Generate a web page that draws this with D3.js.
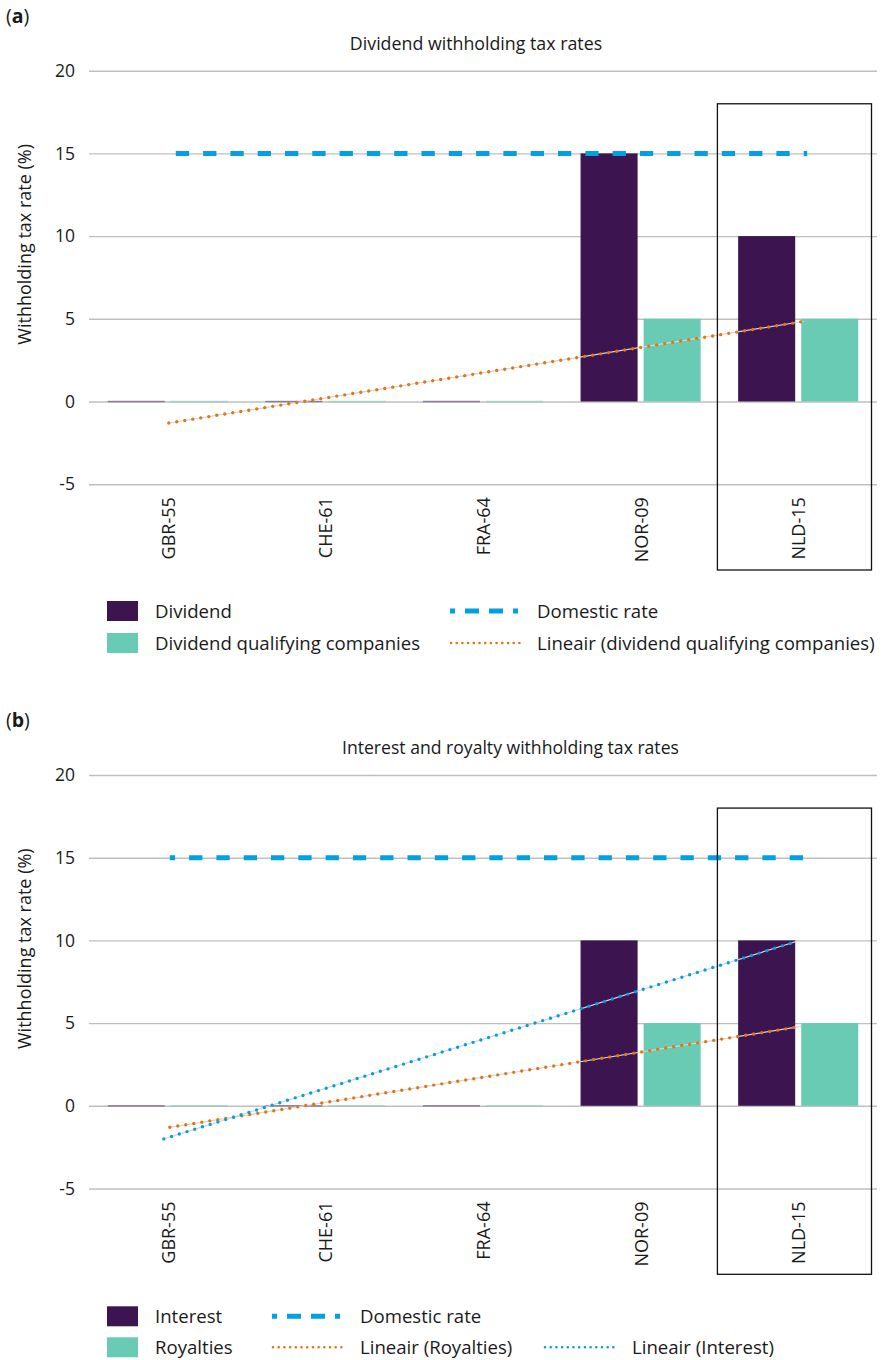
<!DOCTYPE html>
<html>
<head>
<meta charset="utf-8">
<script src="https://cdn.jsdelivr.net/npm/d3@7/dist/d3.min.js"></script>
<style>
  html, body { margin: 0; padding: 0; background: #fff; }
  svg { display: block; font-family: "Open Sans", "Noto Sans", sans-serif; }
</style>
</head>
<body>
<svg id="chart" width="882" height="1360"></svg>
<script>
// ---------- data ----------
const categories = ["GBR-55", "CHE-61", "FRA-64", "NOR-09", "NLD-15"];
const yTicks = [-5, 0, 5, 10, 15, 20];

// panel (a)
const dividend = [0, 0, 0, 15, 10];
const dividendQualifying = [0, 0, 0, 5, 5];
const domesticRateA = [15, 15, 15, 15, 15];
const trendDividendQualifying = [-1.3, 4.85]; // linear trend, first -> last category

// panel (b)
const interest = [0, 0, 0, 10, 10];
const royalties = [0, 0, 0, 5, 5];
const domesticRateB = [15, 15, 15, 15, 15];
const trendRoyalties = [-1.3, 4.8];
const trendInterest = [-2.0, 9.95];

const highlightCategory = "NLD-15";

// ---------- styles ----------
const C = {
  purple: "#3c1450",
  green: "#69cbb3",
  blue: "#01a0e2",
  orange: "#e8730f",
  grid: "#bfbfbf",
  text: "#1a1a1a"
};

const svg = d3.select("#chart");

function drawPanel(opts) {
  const top = opts.offset;
  const g = svg.append("g");
  const y = d3.scaleLinear().domain([-5, 20]).range([top + 484.2, top + 70.7]);
  const x = d3.scaleBand().domain(categories).range([89, 877]).paddingInner(0).paddingOuter(0);
  const bw = x.bandwidth();
  const inner = d3.scaleBand().domain([0, 1]).range([18.75, bw - 18.75]).paddingInner(0.0952);

  // panel letter
  const pl = g.append("text").attr("x", 6).attr("y", top + 23)
    .attr("font-size", 19.5).attr("fill", C.text);
  pl.append("tspan").text("(");
  pl.append("tspan").attr("font-weight", "bold").text(opts.letter);
  pl.append("tspan").text(")");

  // title
  g.append("text").attr("x", opts.titleX).attr("y", top + 50)
    .attr("text-anchor", opts.titleAnchor).attr("font-size", opts.titleSize).attr("fill", C.text)
    .text(opts.title);

  // gridlines + tick labels
  const yAxis = d3.axisLeft(y).tickValues(yTicks).tickSize(-(877 - 89)).tickPadding(14)
    .tickFormat(d => String(d));
  const ax = g.append("g").attr("transform", "translate(89,0)").call(yAxis);
  ax.select(".domain").remove();
  ax.selectAll(".tick line").attr("stroke", C.grid).attr("stroke-width", 1.4);
  ax.selectAll(".tick text").attr("font-size", 17.5).attr("fill", C.text)
    .attr("font-family", "Open Sans, sans-serif");

  // y title
  g.append("text")
    .attr("transform", `translate(31,${y(9.5)}) rotate(-90)`)
    .attr("text-anchor", "middle").attr("font-size", 18).attr("fill", C.text)
    .text("Withholding tax rate (%)");

  // category labels
  const xAxis = d3.axisBottom(x).tickSize(0).tickPadding(0);
  const xa = g.append("g").attr("transform", `translate(0,${y(-5)})`).call(xAxis);
  xa.select(".domain").remove();
  xa.selectAll(".tick text")
    .attr("font-size", 18).attr("fill", C.text)
    .attr("font-family", "Open Sans, sans-serif")
    .attr("text-anchor", "end")
    .attr("dy", null)
    .attr("transform", "translate(7,13) rotate(-90)");

  // bars
  opts.bars.forEach((s, si) => {
    g.append("g").selectAll("rect").data(s.values).join("rect")
      .attr("x", (d, i) => x(categories[i]) + inner(si))
      .attr("width", inner.bandwidth())
      .attr("y", d => d === 0 ? y(0) - 0.75 : y(Math.max(0, d)))
      .attr("height", d => d === 0 ? 1.5 : Math.abs(y(d) - y(0)))
      .attr("fill", s.color)
      .attr("opacity", d => d === 0 ? 0.45 : 1);
  });

  // domestic rate dashed line
  const line = d3.line()
    .x((d, i) => x(categories[i]) + bw / 2 + (i === 0 ? opts.domStart : (i === categories.length - 1 ? opts.domEnd : 0)))
    .y(d => y(d));
  g.append("path").datum(opts.domestic).attr("d", line)
    .attr("fill", "none").attr("stroke", C.blue).attr("stroke-width", 5)
    .attr("stroke-dasharray", "13.3 14").attr("stroke-dashoffset", opts.domOffset);

  // trend lines
  opts.trends.forEach(t => {
    const x0 = x(categories[0]) + bw / 2 + t.dx0, x1 = x(categories[categories.length - 1]) + bw / 2 + t.dx1;
    g.append("line").attr("x1", x0).attr("x2", x1)
      .attr("y1", y(t.values[0])).attr("y2", y(t.values[1]))
      .attr("stroke", "#d6d6d6").attr("stroke-width", 1.2);
    g.append("line").attr("x1", x0).attr("x2", x1)
      .attr("y1", y(t.values[0])).attr("y2", y(t.values[1]))
      .attr("stroke", t.color).attr("stroke-width", 3.4)
      .attr("stroke-linecap", "round").attr("stroke-dasharray", "0 8.1");
  });

  // highlight box
  g.append("rect")
    .attr("x", x(highlightCategory) - 2).attr("width", bw - 3.5)
    .attr("y", y(18)).attr("height", top + 570 - y(18))
    .attr("fill", "none").attr("stroke", "#111").attr("stroke-width", 1.3);

  // legend
  opts.legend.forEach(item => {
    const ly = top + item.row;
    if (item.type === "rect") {
      g.append("rect").attr("x", 107).attr("y", ly - 10).attr("width", 31).attr("height", 20)
        .attr("fill", item.color);
    } else if (item.type === "dash") {
      g.append("line").attr("x1", item.x).attr("x2", item.x + 70).attr("y1", ly).attr("y2", ly)
        .attr("stroke", item.color).attr("stroke-width", 5).attr("stroke-dasharray", "5 10 14 10 14 10 5 20");
    } else {
      g.append("line").attr("x1", item.x + 1).attr("x2", item.x + 70).attr("y1", ly).attr("y2", ly)
        .attr("stroke", item.color).attr("stroke-width", 2.6).attr("stroke-linecap", "round")
        .attr("stroke-dasharray", "0 5.7");
    }
    g.append("text").attr("x", item.tx).attr("y", ly).attr("dy", "0.35em")
      .attr("font-size", 18.6).attr("fill", C.text).text(item.label);
  });
}

drawPanel({
  offset: 0, letter: "a", title: "Dividend withholding tax rates",
  titleX: 476, titleAnchor: "middle", titleSize: 17.8,
  bars: [{ values: dividend, color: C.purple }, { values: dividendQualifying, color: C.green }],
  domestic: domesticRateA, domStart: 8, domEnd: 9, domOffset: 0,
  trends: [{ values: trendDividendQualifying, color: C.orange, dx0: 1, dx1: 6 }],
  legend: [
    { type: "rect", color: C.purple, row: 611, tx: 155, label: "Dividend" },
    { type: "rect", color: C.green, row: 643, tx: 155, label: "Dividend qualifying companies" },
    { type: "dash", color: C.blue, row: 611, x: 450, tx: 537, label: "Domestic rate" },
    { type: "dot", color: C.orange, row: 643, x: 450, tx: 537, label: "Lineair (dividend qualifying companies)" }
  ]
});

drawPanel({
  offset: 704.3, letter: "b", title: "Interest and royalty withholding tax rates",
  titleX: 342, titleAnchor: "start", titleSize: 17.6,
  bars: [{ values: interest, color: C.purple }, { values: royalties, color: C.green }],
  domestic: domesticRateB, domStart: 2, domEnd: 10, domOffset: 8,
  trends: [{ values: trendRoyalties, color: C.orange, dx0: 2, dx1: 3 },
           { values: trendInterest, color: C.blue, dx0: -4, dx1: -1 }],
  legend: [
    { type: "rect", color: C.purple, row: 612, tx: 155, label: "Interest" },
    { type: "rect", color: C.green, row: 643, tx: 155, label: "Royalties" },
    { type: "dash", color: C.blue, row: 612, x: 272, tx: 360, label: "Domestic rate" },
    { type: "dot", color: C.orange, row: 643, x: 272, tx: 360, label: "Lineair (Royalties)" },
    { type: "dot", color: C.blue, row: 643, x: 544, tx: 632, label: "Lineair (Interest)" }
  ]
});
</script>
</body>
</html>
